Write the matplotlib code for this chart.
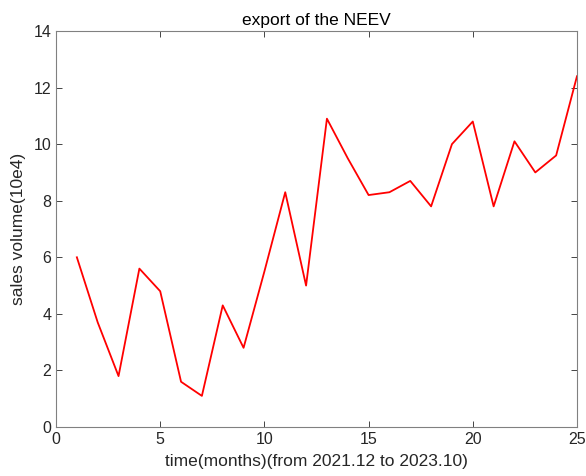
import matplotlib.pyplot as plt

# monthly export volume, 2021.12 .. 2023.10
months = list(range(1, 26))
sales = [6.0, 3.7, 1.8, 5.6, 4.8, 1.6, 1.1, 4.3, 2.8, 5.5,
         8.3, 5.0, 10.9, 9.5, 8.2, 8.3, 8.7, 7.8, 10.0, 10.8,
         7.8, 10.1, 9.0, 9.6, 12.4]

xticks = [0, 5, 10, 15, 20, 25]
yticks = [0, 2, 4, 6, 8, 10, 12, 14]

plt.rcParams['font.family'] = ['Liberation Sans', 'DejaVu Sans']
axcol = '#262626'

fig = plt.figure(figsize=(5.86, 4.76), dpi=100)
ax = fig.add_axes([0.0956, 0.1029, 0.889, 0.832])

ax.plot(months, sales, color='red', linewidth=1.3)

ax.set_xlim(0, 25)
ax.set_ylim(0, 14)
ax.set_xticks(xticks)
ax.set_yticks(yticks)

ax.tick_params(direction='in', top=True, right=True, length=4,
               width=0.6, colors=axcol, labelsize=11.5, labelcolor=axcol)
for s in ax.spines.values():
    s.set_color('#808080')
    s.set_linewidth(0.8)

ax.set_title('export of the NEEV', fontsize=12.5, color='black', pad=4)
ax.set_xlabel('time(months)(from 2021.12 to 2023.10)', fontsize=12.5,
              color=axcol, labelpad=5)
ax.set_ylabel('sales volume(10e4)', fontsize=12.5, color=axcol, labelpad=5)

fig.savefig('out.png', dpi=100)
